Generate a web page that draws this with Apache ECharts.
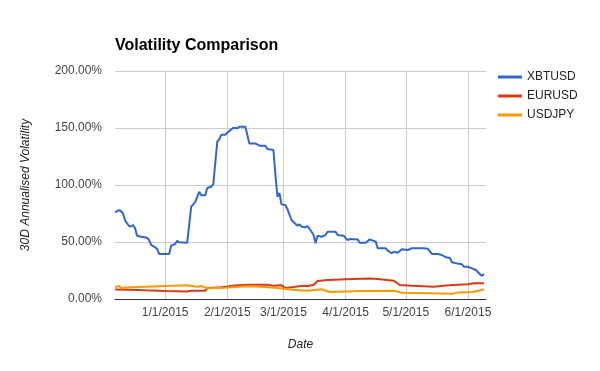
<!DOCTYPE html>
<html>
<head>
<meta charset="utf-8">
<script src="https://cdn.jsdelivr.net/npm/echarts@6/dist/echarts.min.js"></script>
<style>html,body{margin:0;padding:0;background:#fff}#c{width:600px;height:371px}</style>
</head>
<body>
<div id="c"></div>
<script>
const seriesNames = ['XBTUSD', 'EURUSD', 'USDJPY'];
const xAxisTicks = ['2015-01-01', '2015-02-01', '2015-03-01', '2015-04-01', '2015-05-01', '2015-06-01'];
const yAxisTicks = [0, 50, 100, 150, 200];

const xbtDates = ['2014-12-07','2014-12-09','2014-12-10','2014-12-11','2014-12-12','2014-12-14','2014-12-15','2014-12-16','2014-12-17','2014-12-18','2014-12-20','2014-12-23','2014-12-24','2014-12-25','2014-12-27','2014-12-28','2014-12-29','2015-01-03','2015-01-04','2015-01-06','2015-01-07','2015-01-08','2015-01-12','2015-01-14','2015-01-16','2015-01-18','2015-01-19','2015-01-21','2015-01-22','2015-01-24','2015-01-25','2015-01-27','2015-01-28','2015-01-29','2015-01-31','2015-02-02','2015-02-04','2015-02-06','2015-02-07','2015-02-10','2015-02-12','2015-02-15','2015-02-17','2015-02-20','2015-02-21','2015-02-24','2015-02-25','2015-02-26','2015-02-27','2015-02-28','2015-03-02','2015-03-03','2015-03-05','2015-03-06','2015-03-08','2015-03-09','2015-03-10','2015-03-12','2015-03-13','2015-03-15','2015-03-16','2015-03-17','2015-03-18','2015-03-20','2015-03-22','2015-03-23','2015-03-27','2015-03-28','2015-03-31','2015-04-02','2015-04-03','2015-04-07','2015-04-08','2015-04-11','2015-04-13','2015-04-15','2015-04-16','2015-04-17','2015-04-21','2015-04-22','2015-04-24','2015-04-25','2015-04-27','2015-04-29','2015-05-02','2015-05-04','2015-05-10','2015-05-12','2015-05-14','2015-05-17','2015-05-19','2015-05-21','2015-05-23','2015-05-24','2015-05-26','2015-05-29','2015-05-30','2015-06-01','2015-06-03','2015-06-05','2015-06-07','2015-06-08','2015-06-09'];
const xbtValues = [76,78,77,75,69,64,63.5,65,62,55.5,54.6,53.8,51.7,47.4,45.3,44,39.5,39.5,46.8,48.2,51,49.7,49.4,81,85,94,91,91,97.4,98.5,100.5,138,140,144,144,147.4,150.3,149.7,151,151,136.5,136.5,134.5,134.5,131.6,130.7,108.8,89.7,93,83,82.4,78.7,69.3,67.5,64.3,65.5,63.4,62.9,64,59,56.1,48.8,55.5,54.6,56.1,59,59,56.1,55.5,51.7,52.6,52.3,49.4,49.4,52.3,51,50.3,44.5,44.5,42.4,40.1,41.5,40.6,43.6,43,44.5,44.5,44,39.5,39.5,38.6,36.6,36,32.2,31.3,30.4,28.3,28.3,26.9,25.4,21.7,20.3,21.9];

const eurDates = ['2014-12-07','2014-12-14','2014-12-22','2015-01-01','2015-01-12','2015-01-14','2015-01-21','2015-01-22','2015-01-29','2015-02-06','2015-02-13','2015-02-21','2015-02-24','2015-02-28','2015-03-02','2015-03-06','2015-03-10','2015-03-13','2015-03-16','2015-03-18','2015-03-23','2015-04-01','2015-04-09','2015-04-13','2015-04-17','2015-04-25','2015-04-28','2015-05-04','2015-05-15','2015-05-24','2015-06-01','2015-06-04','2015-06-08','2015-06-09'];
const eurValues = [8.3,8.2,7.6,7.0,6.5,7.3,7.3,9.6,10.3,12,12.6,12.6,11.7,12,9.6,10.5,11.5,11.4,12.3,15.8,16.7,17.3,17.8,18,17.6,16,12.3,11.7,10.8,12.3,12.9,13.8,13.8,13.5];

const jpyDates = ['2014-12-07','2014-12-09','2014-12-10','2014-12-14','2014-12-22','2015-01-01','2015-01-12','2015-01-17','2015-01-19','2015-01-22','2015-01-31','2015-02-10','2015-02-18','2015-02-26','2015-03-05','2015-03-13','2015-03-20','2015-03-24','2015-04-09','2015-04-25','2015-04-29','2015-05-12','2015-05-24','2015-05-27','2015-06-03','2015-06-08','2015-06-09'];
const jpyValues = [10.5,11.4,9.5,10.3,10.8,11.4,12,10.8,11.4,9.5,9.9,11.2,10.8,9.6,8.2,7.3,8.5,6.2,7,7.3,5.5,5,4.5,5.8,6.1,7.9,8.5];

const xMin = '2014-12-07';
const xMax = '2015-06-10';

function ts(s) { const p = s.split('-'); return Date.UTC(+p[0], +p[1] - 1, +p[2]); }
function pairs(d, v) { return d.map((s, i) => [ts(s), v[i]]); }
function fmtDate(t) { const d = new Date(t); return (d.getUTCMonth() + 1) + '/' + d.getUTCDate() + '/' + d.getUTCFullYear(); }

const chart = echarts.init(document.getElementById('c'), null, { renderer: 'canvas' });
const font = 'Arial, "Liberation Sans", sans-serif';
const colors = ['#3366cc', '#dc3912', '#ff9900'];
chart.setOption({
  animation: false,
  textStyle: { fontFamily: font },
  title: {
    text: 'Volatility Comparison',
    left: 110, top: 33,
    textStyle: { fontFamily: font, fontSize: 16, fontWeight: 'bold', color: '#000' }
  },
  legend: {
    orient: 'vertical', left: 493, top: 66,
    icon: 'rect', itemWidth: 24, itemHeight: 3, itemGap: 7,
    textStyle: { fontFamily: font, fontSize: 12, color: '#222' },
    data: seriesNames
  },
  grid: { left: 115, right: 114, top: 71, bottom: 72, containLabel: false },
  xAxis: {
    type: 'value',
    min: ts(xMin), max: ts(xMax),
    name: 'Date', nameLocation: 'middle', nameGap: 40,
    nameTextStyle: { fontFamily: font, fontSize: 12, fontStyle: 'italic', color: '#222' },
    axisLine: { show: true, lineStyle: { color: '#333', width: 1 } },
    axisTick: { show: false, customValues: xAxisTicks.map(ts) },
    axisLabel: { customValues: xAxisTicks.map(ts), formatter: fmtDate, color: '#444', fontSize: 12, fontFamily: font, margin: 8 },
    splitLine: { show: true, lineStyle: { color: '#cccccc', width: 1 } }
  },
  yAxis: {
    type: 'value', min: yAxisTicks[0], max: yAxisTicks[yAxisTicks.length - 1], interval: 50,
    name: '30D Annualised Volatility', nameLocation: 'middle', nameGap: 83,
    nameTextStyle: { fontFamily: font, fontSize: 12, fontStyle: 'italic', color: '#222' },
    axisLine: { show: false }, axisTick: { show: false },
    axisLabel: { formatter: v => v.toFixed(2) + '%', color: '#444', fontSize: 12, fontFamily: font, margin: 13 },
    splitLine: { show: true, lineStyle: { color: '#cccccc', width: 1 } }
  },
  series: [
    { name: seriesNames[0], type: 'line', data: pairs(xbtDates, xbtValues), showSymbol: false, color: colors[0], lineStyle: { width: 2 } },
    { name: seriesNames[1], type: 'line', data: pairs(eurDates, eurValues), showSymbol: false, color: colors[1], lineStyle: { width: 2 } },
    { name: seriesNames[2], type: 'line', data: pairs(jpyDates, jpyValues), showSymbol: false, color: colors[2], lineStyle: { width: 2 } }
  ]
});
</script>
</body>
</html>
